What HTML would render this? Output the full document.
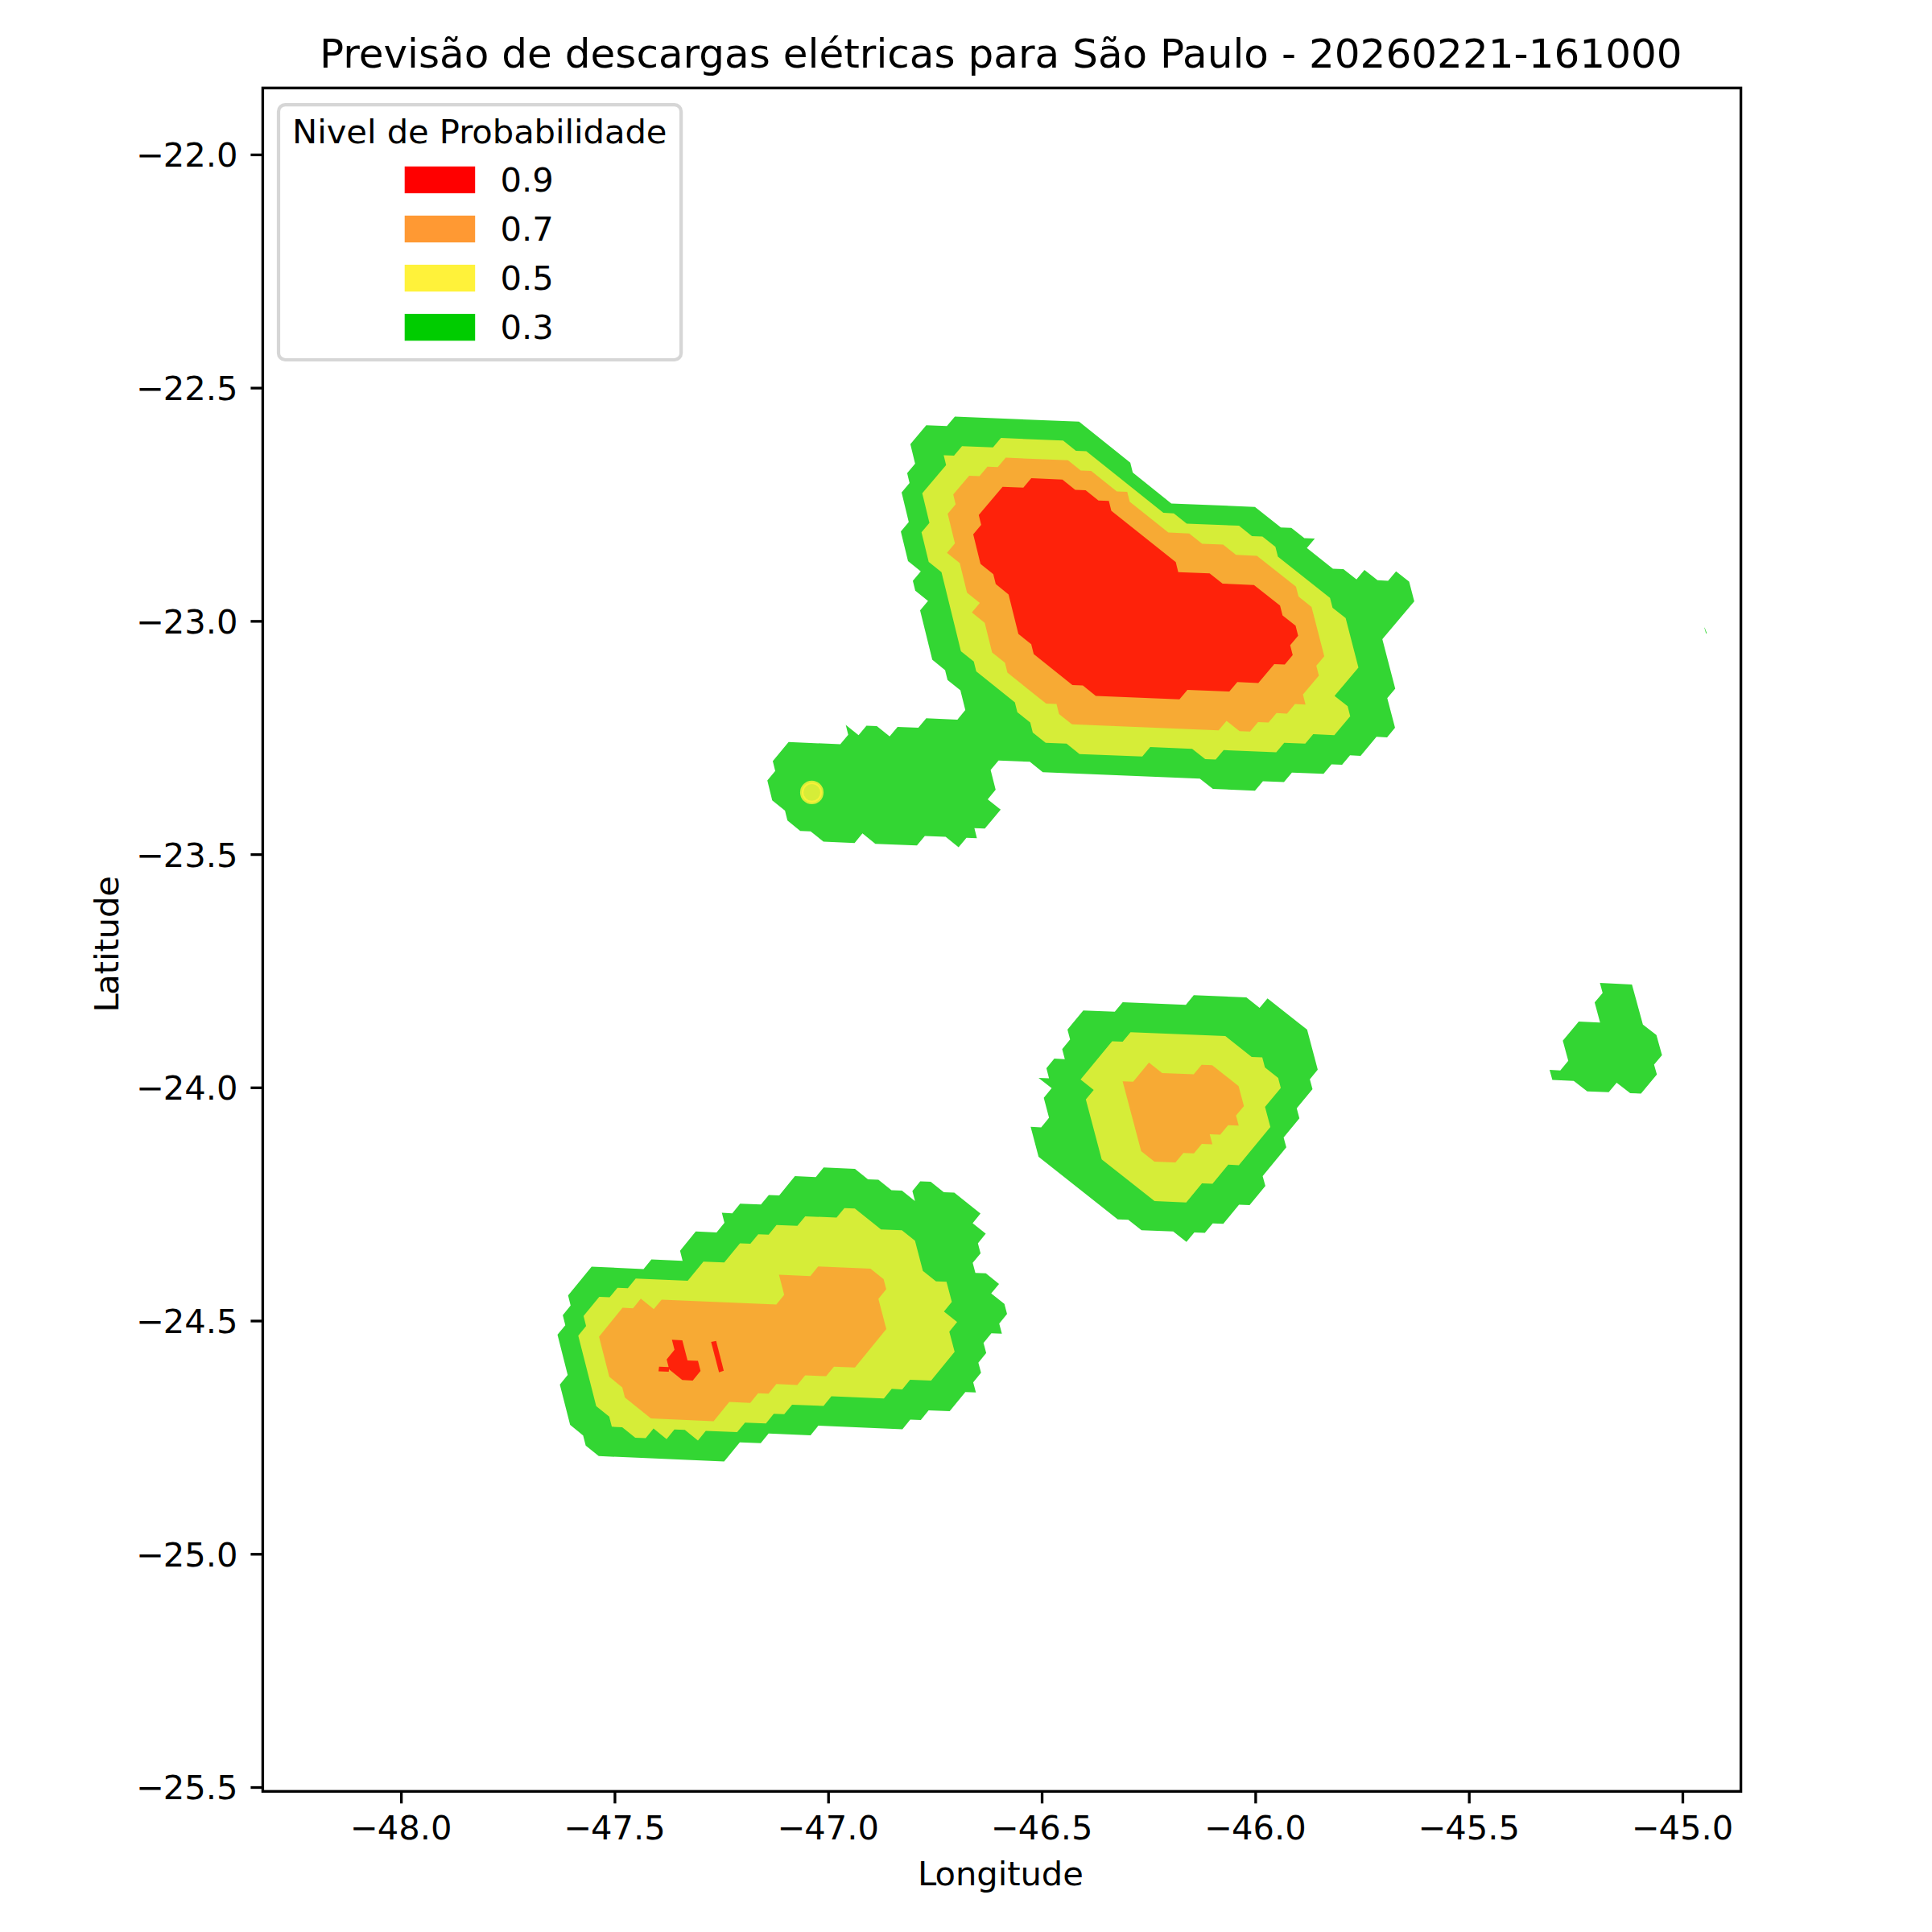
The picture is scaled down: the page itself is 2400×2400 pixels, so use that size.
<!DOCTYPE html>
<html lang="pt-BR">
<head>
<meta charset="utf-8">
<title>Previsão de descargas elétricas para São Paulo</title>
<style>
html,body{margin:0;padding:0;background:#fff}
svg{display:block}
text{font-family:"DejaVu Sans","Liberation Sans",sans-serif;fill:#000}
.t10{font-size:41.6667px}
.t12{font-size:50px}
</style>
</head>
<body>

<svg width="2400" height="2400" viewBox="0 0 2400 2400">
<rect width="2400" height="2400" fill="#fff"/>
<defs><clipPath id="ax"><rect x="326.40" y="109.30" width="1836.20" height="2116.00"/></clipPath></defs>
<g clip-path="url(#ax)">
<path d="M1186.15 517.58 L1340.44 523.85 L1404.11 574.86 L1407.15 587.09 L1455.11 625.40 L1558.94 629.66 L1591.16 655.23 L1604.18 655.77 L1620.32 668.56 L1633.36 669.10 L1623.45 680.82 L1655.81 706.42 L1668.86 706.96 L1685.08 719.76 L1694.99 708.04 L1711.23 720.84 L1724.31 721.39 L1734.23 709.66 L1750.49 722.47 L1756.85 747.02 L1717.20 793.97 L1733.22 855.44 L1723.31 867.20 L1732.98 904.12 L1723.09 915.89 L1709.96 915.34 L1690.18 938.89 L1677.06 938.34 L1667.18 950.12 L1654.07 949.57 L1644.19 961.35 L1604.89 959.72 L1595.02 971.51 L1568.85 970.42 L1558.98 982.21 L1506.72 980.04 L1490.48 967.18 L1295.38 959.14 L1279.29 946.29 L1240.44 944.70 L1230.60 956.48 L1236.82 981.12 L1226.98 992.91 L1243.05 1005.77 L1223.39 1029.37 L1210.44 1028.84 L1213.56 1041.17 L1200.61 1040.64 L1190.78 1052.44 L1174.72 1039.58 L1148.86 1038.52 L1139.04 1050.32 L1087.38 1048.21 L1071.39 1035.35 L1061.58 1047.15 L1022.92 1045.57 L1006.98 1032.71 L994.11 1032.19 L978.20 1019.34 L975.15 1007.01 L959.27 994.17 L953.21 969.53 L963.01 957.74 L959.99 945.43 L979.62 921.86 L1043.85 924.48 L1053.68 912.70 L1050.64 900.39 L1066.54 913.22 L1076.37 901.44 L1089.24 901.97 L1105.16 914.80 L1114.99 903.02 L1140.77 904.07 L1150.61 892.30 L1189.32 893.88 L1199.16 882.11 L1193.03 857.52 L1177.08 844.70 L1174.03 832.41 L1158.10 819.60 L1142.98 758.22 L1152.83 746.48 L1136.96 733.69 L1133.96 721.43 L1143.82 709.69 L1127.98 696.91 L1119.03 660.16 L1128.89 648.44 L1120.00 611.72 L1129.86 600.01 L1126.91 587.78 L1136.78 576.07 L1130.89 551.63 L1150.63 528.23 L1176.27 529.27Z" fill="#00cc00" fill-opacity="0.8"/>
<path d="M1345.68 1255.17 L1384.84 1256.78 L1394.66 1244.90 L1473.08 1248.16 L1482.91 1236.29 L1548.35 1239.04 L1564.72 1252.02 L1574.55 1240.15 L1623.74 1279.10 L1636.96 1328.79 L1627.14 1340.65 L1630.46 1353.07 L1610.84 1376.79 L1614.17 1389.21 L1594.57 1412.92 L1597.90 1425.34 L1568.53 1460.91 L1571.88 1473.32 L1552.32 1497.03 L1539.18 1496.48 L1519.63 1520.19 L1506.51 1519.64 L1496.74 1531.50 L1483.61 1530.95 L1473.85 1542.81 L1457.37 1529.85 L1418.04 1528.22 L1401.59 1515.27 L1388.50 1514.73 L1290.15 1437.09 L1280.31 1399.87 L1293.37 1400.40 L1303.15 1388.52 L1296.61 1363.70 L1306.41 1351.82 L1290.10 1338.88 L1303.15 1339.41 L1299.89 1326.99 L1309.69 1315.11 L1322.74 1315.64 L1319.49 1303.23 L1329.30 1291.35 L1326.06 1278.93Z" fill="#00cc00" fill-opacity="0.8"/>
<path d="M734.94 1573.58 L799.45 1576.38 L809.20 1564.47 L847.96 1566.14 L844.79 1553.67 L864.29 1529.85 L890.15 1530.95 L899.90 1519.04 L896.73 1506.58 L909.66 1507.13 L919.41 1495.22 L945.28 1496.31 L955.04 1484.40 L967.98 1484.94 L987.50 1461.12 L1013.40 1462.20 L1023.16 1450.29 L1062.04 1451.90 L1078.23 1464.89 L1091.20 1465.42 L1107.41 1478.41 L1120.40 1478.94 L1136.64 1491.93 L1133.40 1479.47 L1143.16 1467.55 L1156.16 1468.08 L1172.41 1481.06 L1185.43 1481.59 L1218.00 1507.56 L1208.25 1519.50 L1224.56 1532.50 L1214.81 1544.44 L1218.10 1556.91 L1208.34 1568.86 L1211.64 1581.34 L1224.69 1581.87 L1241.05 1594.88 L1231.30 1606.83 L1247.69 1619.85 L1251.01 1632.34 L1241.27 1644.30 L1244.60 1656.80 L1231.52 1656.27 L1221.77 1668.23 L1225.11 1680.73 L1215.36 1692.70 L1218.70 1705.21 L1208.96 1717.18 L1212.31 1729.69 L1199.22 1729.16 L1179.74 1753.11 L1153.59 1752.03 L1143.85 1764.00 L1130.78 1763.46 L1121.04 1775.44 L1016.62 1771.05 L1006.88 1783.02 L954.78 1780.80 L945.04 1792.76 L919.02 1791.64 L899.56 1815.57 L743.77 1808.76 L727.59 1795.66 L724.38 1783.14 L708.23 1770.05 L695.46 1720.01 L705.20 1708.08 L692.52 1658.10 L702.26 1646.19 L699.11 1633.70 L708.85 1621.78 L705.70 1609.30Z" fill="#00cc00" fill-opacity="0.8"/>
<path d="M1987.47 1221.02 L2027.26 1222.98 L2040.89 1272.79 L2057.67 1285.83 L2064.62 1310.65 L2054.74 1322.47 L2058.24 1334.86 L2038.50 1358.52 L2025.13 1357.96 L2008.29 1344.98 L1998.42 1356.83 L1971.74 1355.69 L1954.98 1342.67 L1928.39 1341.51 L1924.98 1329.03 L1938.27 1329.63 L1948.15 1317.75 L1941.37 1292.79 L1961.15 1269.06 L1987.69 1270.31 L1980.93 1245.35 L1990.83 1233.51Z" fill="#00cc00" fill-opacity="0.8"/>
<path d="M2117.20 779.80 L2117.60 779.80 L2120.30 786.60 L2119.30 787.00Z" fill="#00cc00" fill-opacity="0.8"/>
<path d="M1243.43 544.10 L1320.66 547.24 L1336.55 559.99 L1349.44 560.52 L1445.22 637.11 L1458.18 637.64 L1474.21 650.42 L1539.13 653.09 L1555.23 665.88 L1568.24 666.41 L1584.36 679.20 L1587.48 691.46 L1652.20 742.68 L1655.35 754.96 L1671.59 767.78 L1687.49 829.21 L1657.80 864.48 L1674.10 877.32 L1677.30 889.63 L1657.52 913.17 L1631.33 912.08 L1621.45 923.85 L1595.28 922.77 L1585.40 934.54 L1520.08 931.84 L1510.21 943.62 L1497.17 943.08 L1480.96 930.22 L1428.86 928.08 L1419.00 939.85 L1419.00 939.85 L1341.02 936.64 L1324.92 923.80 L1298.99 922.73 L1282.93 909.89 L1279.82 897.59 L1263.79 884.75 L1260.70 872.46 L1212.73 833.99 L1209.67 821.71 L1193.72 808.90 L1169.53 710.74 L1153.67 697.96 L1144.71 661.20 L1154.57 649.48 L1145.65 612.76 L1175.26 577.63 L1172.30 565.41 L1185.13 565.93 L1195.01 554.23 L1233.55 555.80Z" fill="#fff23a" fill-opacity="0.8"/>
<path d="M1404.41 1282.15 L1522.15 1287.07 L1554.93 1313.02 L1568.04 1313.57 L1571.34 1325.99 L1587.76 1338.97 L1591.07 1351.39 L1571.46 1375.11 L1578.11 1399.94 L1538.93 1447.38 L1525.81 1446.83 L1506.24 1470.55 L1493.12 1470.00 L1473.57 1493.72 L1434.24 1492.08 L1368.59 1440.29 L1348.86 1365.83 L1358.65 1353.95 L1342.32 1341.00 L1381.53 1293.49 L1394.60 1294.03Z" fill="#fff23a" fill-opacity="0.8"/>
<path d="M789.70 1588.30 L854.33 1591.09 L873.82 1567.25 L899.70 1568.36 L919.21 1544.52 L932.15 1545.07 L941.91 1533.15 L954.86 1533.69 L964.61 1521.78 L990.53 1522.86 L1000.28 1510.94 L1039.19 1512.57 L1048.95 1500.64 L1061.93 1501.18 L1094.37 1527.18 L1120.37 1528.25 L1136.64 1541.25 L1146.44 1578.68 L1162.76 1591.69 L1175.79 1592.22 L1182.39 1617.19 L1172.64 1629.15 L1189.00 1642.17 L1179.25 1654.13 L1185.89 1679.13 L1156.66 1715.03 L1130.54 1713.95 L1120.80 1725.92 L1107.74 1725.37 L1098.00 1737.34 L1032.79 1734.60 L1023.05 1746.57 L983.98 1744.91 L974.24 1756.87 L961.23 1756.32 L951.49 1768.28 L925.48 1767.16 L915.74 1779.12 L876.75 1777.44 L867.02 1789.39 L850.77 1776.31 L837.79 1775.75 L828.06 1787.70 L811.85 1774.61 L802.11 1786.57 L789.15 1786.00 L772.96 1772.91 L760.00 1772.34 L756.79 1759.83 L740.63 1746.74 L718.33 1659.24 L728.07 1647.32 L724.91 1634.84 L744.39 1611.00 L757.30 1611.57 L767.05 1599.65 L779.96 1600.21Z" fill="#fff23a" fill-opacity="0.8"/>
<circle cx="1008.50" cy="984.40" r="12.50" fill="#fff23a" fill-opacity="0.8" stroke="#fff23a" stroke-opacity="0.8" stroke-width="4.167"/>
<path d="M1249.38 568.54 L1326.65 571.69 L1342.56 584.45 L1355.47 584.98 L1387.36 610.51 L1400.29 611.03 L1403.33 623.27 L1451.35 661.61 L1477.29 662.67 L1493.35 675.46 L1519.33 676.53 L1535.42 689.32 L1561.44 690.39 L1561.44 690.39 L1609.90 728.80 L1613.04 741.07 L1629.23 753.88 L1645.06 815.29 L1635.16 827.05 L1638.34 839.34 L1618.56 862.85 L1621.74 875.16 L1608.67 874.61 L1598.78 886.38 L1585.71 885.84 L1575.83 897.60 L1562.77 897.06 L1552.89 908.83 L1539.83 908.29 L1523.61 895.45 L1513.74 907.22 L1331.66 899.72 L1315.59 886.88 L1312.48 874.58 L1299.53 874.05 L1251.47 835.58 L1248.40 823.29 L1232.43 810.48 L1223.29 773.64 L1207.36 760.84 L1217.21 749.10 L1201.30 736.31 L1192.26 699.53 L1176.39 686.75 L1186.25 675.02 L1177.28 638.28 L1187.15 626.57 L1184.17 614.33 L1203.91 590.91 L1216.77 591.43 L1226.64 579.72 L1239.50 580.25Z" fill="#ff9933" fill-opacity="0.8"/>
<path d="M1427.27 1319.94 L1443.63 1332.90 L1482.90 1334.54 L1492.71 1322.67 L1505.81 1323.22 L1538.61 1349.16 L1545.22 1374.00 L1535.42 1385.86 L1538.74 1398.28 L1525.62 1397.72 L1515.83 1409.59 L1502.72 1409.03 L1506.04 1421.45 L1492.93 1420.90 L1483.14 1432.76 L1470.03 1432.21 L1460.24 1444.08 L1434.04 1442.99 L1417.63 1430.04 L1394.59 1343.15 L1407.67 1343.69Z" fill="#ff9933" fill-opacity="0.8"/>
<path d="M821.90 1614.38 L964.41 1620.47 L974.15 1608.54 L967.70 1583.58 L1006.63 1585.22 L1016.38 1573.29 L1081.36 1575.99 L1097.63 1589.01 L1100.89 1601.49 L1091.15 1613.44 L1100.98 1650.90 L1062.01 1698.73 L1035.95 1697.63 L1026.21 1709.59 L1000.18 1708.49 L990.44 1720.44 L964.42 1719.34 L954.68 1731.29 L941.68 1730.74 L931.94 1742.69 L905.95 1741.58 L886.48 1765.48 L808.61 1762.10 L776.25 1735.94 L773.04 1723.44 L756.90 1710.36 L744.15 1660.38 L773.38 1624.61 L786.30 1625.18 L796.05 1613.26 L812.15 1626.30Z" fill="#ff9933" fill-opacity="0.8"/>
<path d="M1281.11 594.05 L1319.77 595.63 L1335.69 608.39 L1348.60 608.92 L1364.54 621.69 L1377.47 622.22 L1380.50 634.46 L1460.58 698.37 L1463.67 710.64 L1502.63 712.24 L1518.74 725.04 L1557.77 726.65 L1557.77 726.65 L1590.10 752.26 L1593.24 764.54 L1609.43 777.36 L1612.59 789.64 L1602.70 801.39 L1605.86 813.67 L1595.97 825.42 L1582.91 824.88 L1563.14 848.39 L1537.05 847.32 L1527.17 859.08 L1475.06 856.93 L1465.19 868.69 L1465.19 868.69 L1361.24 864.41 L1345.16 851.58 L1332.20 851.05 L1284.11 812.59 L1281.04 800.31 L1265.06 787.50 L1252.87 738.42 L1236.94 725.62 L1233.91 713.36 L1218.01 700.58 L1208.98 663.82 L1218.85 652.10 L1215.85 639.86 L1245.48 604.71 L1271.23 605.76Z" fill="#ff0000" fill-opacity="0.8"/>
<path d="M834.68 1664.33 L847.63 1664.89 L854.07 1689.88 L867.03 1690.44 L870.26 1702.94 L860.52 1714.88 L847.55 1714.32 L831.37 1701.25 L828.15 1688.76 L837.89 1676.82Z" fill="#ff0000" fill-opacity="0.8"/>
<path d="M818.75 1697.75 L831.25 1698.25 L830.75 1704.00 L818.00 1703.50Z" fill="#ff0000" fill-opacity="0.8"/>
<path d="M883.35 1667.10 L889.60 1665.80 L899.10 1702.80 L893.20 1704.80Z" fill="#ff0000" fill-opacity="0.8"/>
</g>
<g stroke="#000" stroke-width="3.333" fill="none">
<line x1="498.60" y1="2225.30" x2="498.60" y2="2240.30"/>
<line x1="763.91" y1="2225.30" x2="763.91" y2="2240.30"/>
<line x1="1029.23" y1="2225.30" x2="1029.23" y2="2240.30"/>
<line x1="1294.55" y1="2225.30" x2="1294.55" y2="2240.30"/>
<line x1="1559.86" y1="2225.30" x2="1559.86" y2="2240.30"/>
<line x1="1825.18" y1="2225.30" x2="1825.18" y2="2240.30"/>
<line x1="2090.49" y1="2225.30" x2="2090.49" y2="2240.30"/>
<line x1="326.40" y1="192.40" x2="311.40" y2="192.40"/>
<line x1="326.40" y1="482.13" x2="311.40" y2="482.13"/>
<line x1="326.40" y1="771.86" x2="311.40" y2="771.86"/>
<line x1="326.40" y1="1061.59" x2="311.40" y2="1061.59"/>
<line x1="326.40" y1="1351.32" x2="311.40" y2="1351.32"/>
<line x1="326.40" y1="1641.05" x2="311.40" y2="1641.05"/>
<line x1="326.40" y1="1930.78" x2="311.40" y2="1930.78"/>
<line x1="326.40" y1="2220.51" x2="311.40" y2="2220.51"/>
<rect x="326.40" y="109.30" width="1836.20" height="2116.00" stroke-linejoin="miter"/>
</g>
<text class="t10" text-anchor="middle" x="498.30" y="2285.13">−<tspan dx="-1.30">48.0</tspan></text>
<text class="t10" text-anchor="middle" x="763.62" y="2285.13">−<tspan dx="-1.30">47.5</tspan></text>
<text class="t10" text-anchor="middle" x="1028.93" y="2285.13">−<tspan dx="-1.30">47.0</tspan></text>
<text class="t10" text-anchor="middle" x="1294.25" y="2285.13">−<tspan dx="-1.30">46.5</tspan></text>
<text class="t10" text-anchor="middle" x="1559.56" y="2285.13">−<tspan dx="-1.30">46.0</tspan></text>
<text class="t10" text-anchor="middle" x="1824.88" y="2285.13">−<tspan dx="-1.30">45.5</tspan></text>
<text class="t10" text-anchor="middle" x="2090.19" y="2285.13">−<tspan dx="-1.30">45.0</tspan></text>
<text class="t10" text-anchor="end" x="295.63" y="207.38">−<tspan dx="-1.30">22.0</tspan></text>
<text class="t10" text-anchor="end" x="295.63" y="497.11">−<tspan dx="-1.30">22.5</tspan></text>
<text class="t10" text-anchor="end" x="295.63" y="786.84">−<tspan dx="-1.30">23.0</tspan></text>
<text class="t10" text-anchor="end" x="295.63" y="1076.57">−<tspan dx="-1.30">23.5</tspan></text>
<text class="t10" text-anchor="end" x="295.63" y="1366.30">−<tspan dx="-1.30">24.0</tspan></text>
<text class="t10" text-anchor="end" x="295.63" y="1656.03">−<tspan dx="-1.30">24.5</tspan></text>
<text class="t10" text-anchor="end" x="295.63" y="1945.76">−<tspan dx="-1.30">25.0</tspan></text>
<text class="t10" text-anchor="end" x="295.63" y="2235.49">−<tspan dx="-1.30">25.5</tspan></text>
<text class="t10" text-anchor="middle" x="1242.85" y="2342.17" letter-spacing="-0.050">L<tspan dx="-0.90">ongitude</tspan></text>
<text class="t10" text-anchor="middle" transform="translate(147.21 1172.80) rotate(-90)" letter-spacing="-0.100">L<tspan dx="-1.30">atitude</tspan></text>
<text class="t12" text-anchor="middle" x="1243.30" y="84.30" letter-spacing="0.028">Previsão de descargas elétricas para São Paulo - 20260221-161000</text>
<rect x="346.00" y="130.13" width="500.10" height="316.87" rx="8.33" ry="8.33" fill="#fff" stroke="#ccc" stroke-width="4.167" opacity="0.8"/>
<text class="t10" x="363.10" y="178.46" letter-spacing="-0.048">Nivel de Probabilidade</text>
<rect x="504.79" y="208.85" width="83.33" height="29.17" fill="#ff0000" stroke="#ff0000" stroke-width="4.167"/>
<text class="t10" x="621.40" y="237.72">0.9</text>
<rect x="504.79" y="269.90" width="83.33" height="29.17" fill="#ff9933" stroke="#ff9933" stroke-width="4.167"/>
<text class="t10" x="621.40" y="298.77">0.7</text>
<rect x="504.79" y="330.95" width="83.33" height="29.17" fill="#fff23a" stroke="#fff23a" stroke-width="4.167"/>
<text class="t10" x="621.40" y="359.82">0.5</text>
<rect x="504.79" y="392.00" width="83.33" height="29.17" fill="#00cc00" stroke="#00cc00" stroke-width="4.167"/>
<text class="t10" x="621.40" y="420.87">0.3</text>
</svg>
</body>
</html>
